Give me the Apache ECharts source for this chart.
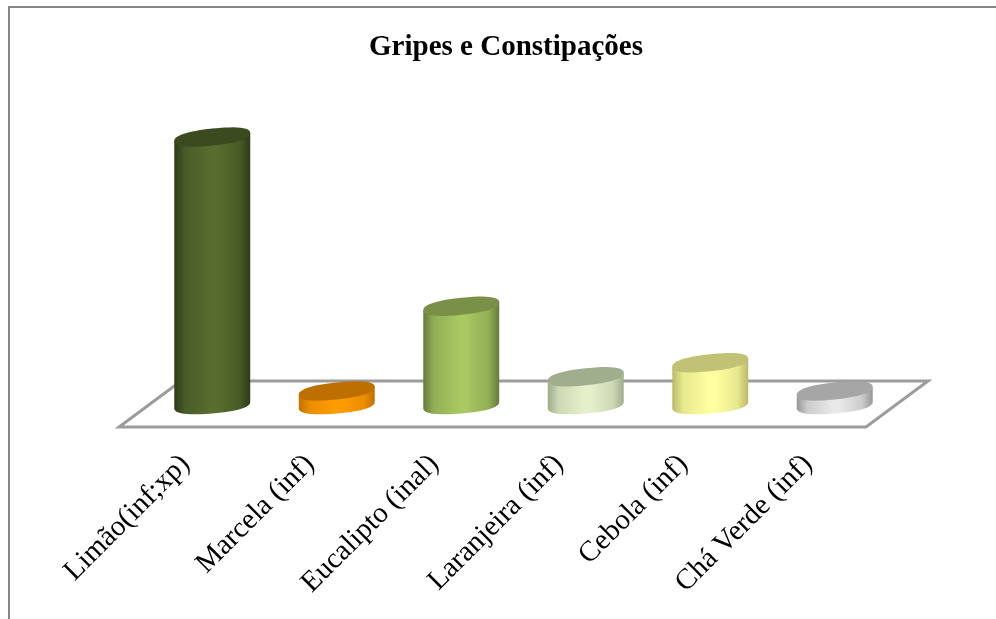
<!DOCTYPE html>
<html>
<head>
<meta charset="utf-8">
<style>
html, body { margin: 0; padding: 0; background: #fff; }
#main { width: 996px; height: 619px; }
</style>
<script src="https://cdn.jsdelivr.net/npm/echarts@6/dist/echarts.min.js"></script>
</head>
<body>
<div id="main"></div>
<script>
var categories = ['Limão(inf;xp)', 'Marcela (inf)', 'Eucalipto (inal)', 'Laranjeira (inf)', 'Cebola (inf)', 'Chá Verde (inf)'];
var values = [19, 1, 7, 2, 3, 1];

// edge, middle, top of each cylinder
var edgeColors = ['#2d3a17', '#c27200', '#667c3d', '#9fac8a', '#b9b96c', '#979797'];
var midColors = ['#586d2f', '#ff9c00', '#a8c962', '#e5f0cb', '#ffffa0', '#e9e9e9'];
var topColors = ['#3c4a20', '#bd7000', '#7a9048', '#a1ae8d', '#c2c276', '#a6a6a6'];

function soft(v) {
    return (v < 0 ? -1 : 1) * Math.pow(Math.abs(v), 0.85);
}

// ellipse of a cylinder cap, sheared so its right side sits higher than its left
function capPoint(cx, cy, rx, ry, shear, t) {
    var c = soft(Math.cos(t)), s = soft(Math.sin(t));
    return [cx + rx * c, cy + ry * s - shear * c];
}

function renderCylinder(params, api) {
    var i = api.value(0);
    var base = api.coord([i, 0]);
    var top = api.coord([i, api.value(1)]);
    var rx = api.size([1, 0])[0] * 0.305;
    var ry = 8.5, topShear = 4, baseShear = 3.2;
    var n = 48, body = [], cap = [], k;
    // lower half of the bottom ellipse, then up to the top ellipse
    for (k = 0; k <= n / 2; k++) {
        body.push(capPoint(base[0], base[1], rx, ry, baseShear, Math.PI * 2 * k / n));
    }
    body.push(capPoint(top[0], top[1], rx, ry, topShear, Math.PI));
    body.push(capPoint(top[0], top[1], rx, ry, topShear, 0));
    for (k = 0; k < n; k++) {
        cap.push(capPoint(top[0], top[1], rx, ry, topShear, Math.PI * 2 * k / n));
    }
    var shoulder = echarts.color.lerp(0.65, [edgeColors[i], midColors[i]]);
    return {
        type: 'group',
        children: [
            {
                type: 'polygon',
                shape: { points: body },
                style: {
                    fill: new echarts.graphic.LinearGradient(0, 0, 1, 0, [
                        { offset: 0, color: edgeColors[i] },
                        { offset: 0.14, color: shoulder },
                        { offset: 0.48, color: midColors[i] },
                        { offset: 0.56, color: midColors[i] },
                        { offset: 0.86, color: shoulder },
                        { offset: 1, color: edgeColors[i] }
                    ])
                }
            },
            { type: 'polygon', shape: { points: cap }, style: { fill: topColors[i] } }
        ]
    };
}

// floor plane, skewed around the category axis
function renderFloor(params, api) {
    var sys = params.coordSys;
    var left = sys.x, right = sys.x + sys.width;
    var depth = 31, half = 23, y = sys.y + sys.height - 1;
    return {
        type: 'polygon',
        shape: {
            points: [
                [left - depth, y + half],
                [right - depth, y + half],
                [right + depth, y - half],
                [left + depth, y - half]
            ]
        },
        style: { fill: '#fff', stroke: '#9c9c9c', lineWidth: 3 }
    };
}

var option = {
    backgroundColor: '#fff',
    animation: false,
    title: {
        text: 'Gripes e Constipações',
        left: 501,
        top: 28,
        textAlign: 'center',
        textStyle: { fontFamily: 'Liberation Serif', fontSize: 29, fontWeight: 'bold', color: '#000' }
    },
    graphic: [
        { type: 'line', shape: { x1: 9, y1: 7, x2: 996, y2: 7 }, style: { stroke: '#868686', lineWidth: 2 } },
        { type: 'line', shape: { x1: 9, y1: 6, x2: 9, y2: 619 }, style: { stroke: '#868686', lineWidth: 2 } }
    ],
    grid: { left: 150, width: 747, top: 123, height: 282 },
    xAxis: {
        type: 'category',
        data: categories,
        axisLine: { show: false },
        axisTick: { show: false },
        axisLabel: {
            interval: 0,
            rotate: 45,
            margin: 28,
            padding: [0, 38, 0, 0],
            hideOverlap: false,
            fontFamily: 'Liberation Serif',
            fontSize: 29,
            color: '#000'
        }
    },
    yAxis: { type: 'value', min: 0, max: 20, show: false },
    series: [
        {
            type: 'custom',
            silent: true,
            z: 1,
            renderItem: renderFloor,
            data: [[0, 0]]
        },
        {
            type: 'custom',
            silent: true,
            z: 2,
            renderItem: renderCylinder,
            encode: { x: 0, y: 1 },
            data: values.map(function (v, i) { return [i, v]; })
        }
    ]
};

var chart = echarts.init(document.getElementById('main'));
chart.setOption(option);
</script>
</body>
</html>
